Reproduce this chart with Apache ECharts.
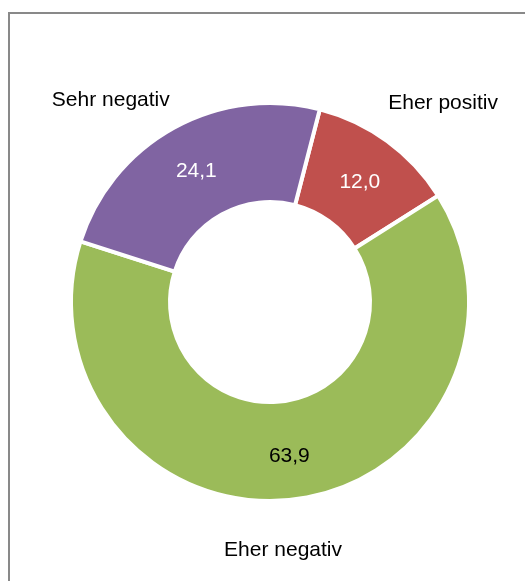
<!DOCTYPE html>
<html>
<head>
<meta charset="utf-8">
<style>
    html, body { margin: 0; padding: 0; background: #fff; }
    #donut { width: 525px; height: 581px; }
</style>
<script src="https://cdn.jsdelivr.net/npm/echarts@6/dist/echarts.min.js"></script>
</head>
<body>
<div id="donut"></div>
<script>
    // categories in clockwise order starting from the slice at the top right
    const categories = ['Eher positiv', 'Eher negativ', 'Sehr negativ']
    const shares = [12.0, 63.9, 24.1]
    const sliceColors = ['#c0504d', '#9bbb59', '#8064a2']
    const valueColors = ['#ffffff', '#000000', '#ffffff']
    // nudges for the category names (Excel placed them by hand)
    const nameNudge = [[24, 6], [-19, -3], [-37, 20]]

    const center = [270, 302]
    const fontFamily = '"Liberation Sans", Arial, sans-serif'

    const chart = echarts.init(document.getElementById('donut'))

    const valueData = categories.map(function (c, i) {
      return {
        name: c,
        value: shares[i],
        itemStyle: { color: sliceColors[i] },
        label: { color: valueColors[i] }
      }
    })
    const nameData = categories.map(function (c, i) {
      return {
        name: c,
        value: shares[i],
        label: { offset: nameNudge[i] }
      }
    })

    chart.setOption({
      backgroundColor: '#fff',
      animation: false,
      graphic: [{
        type: 'rect',
        shape: { x: 9, y: 13, width: 1000, height: 1000 },
        style: { fill: 'none', stroke: '#898989', lineWidth: 2 },
        silent: true
      }],
      series: [
        {
          type: 'pie',
          center: center,
          radius: [100, 199],
          startAngle: 75.5,
          clockwise: true,
          avoidLabelOverlap: false,
          itemStyle: { borderColor: '#fff', borderWidth: 4 },
          label: {
            show: true,
            position: 'inside',
            fontFamily: fontFamily,
            fontSize: 21,
            offset: [0, 3],
            formatter: function (p) {
              return p.value.toFixed(1).replace('.', ',')
            }
          },
          labelLine: { show: false },
          data: valueData
        },
        {
          // invisible ring used only to place the category names
          type: 'pie',
          center: center,
          radius: [245, 255],
          startAngle: 75.5,
          clockwise: true,
          silent: true,
          avoidLabelOverlap: false,
          itemStyle: { color: 'rgba(0,0,0,0)' },
          label: {
            show: true,
            position: 'inside',
            color: '#000',
            fontFamily: fontFamily,
            fontSize: 21,
            formatter: '{b}'
          },
          labelLine: { show: false },
          data: nameData
        }
      ]
    })
</script>
</body>
</html>
